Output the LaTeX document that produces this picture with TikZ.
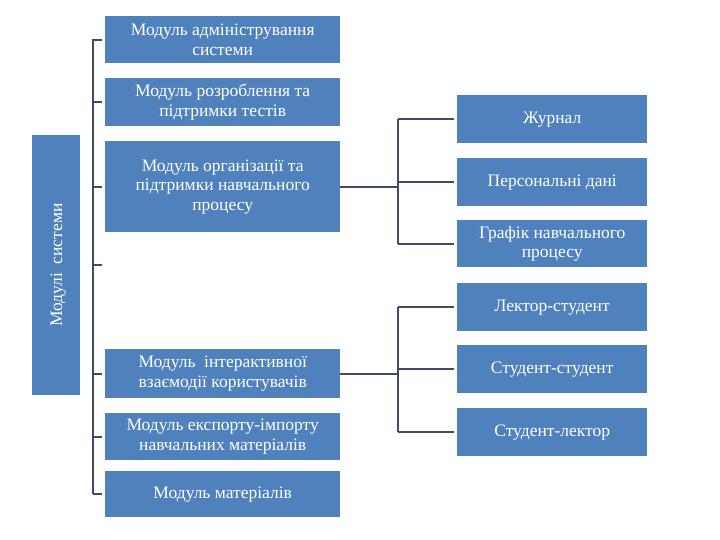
\documentclass[tikz,border=0pt]{standalone}
\usepackage{fontspec}
\setmainfont{Liberation Serif}
\usetikzlibrary{calc}
\definecolor{boxblue}{HTML}{4F81BD}
\definecolor{linedark}{HTML}{3E4C66}
\tikzset{
  modbox/.style={rectangle, fill=boxblue, text=white, anchor=north west,
    minimum width=235pt, align=center, inner sep=2pt,
    font=\fontsize{17.5}{19.5}\selectfont},
  subbox/.style={modbox, minimum width=190pt},
  link/.style={draw=linedark, line width=2pt},
  tick/.style={link, shorten >=3pt},
}

\begin{document}
\begin{tikzpicture}[x=1pt,y=-1pt]
  \useasboundingbox (0,0) rectangle (720,540);

  % left title box
  \node [modbox, minimum width=48pt, minimum height=260pt] (title) at (32,135) {};
  \node [rotate=90, text=white, font=\fontsize{17.5}{19.5}\selectfont] (titletext) at ($(title.center)+(2,0)$) {Модулі~ системи};

  % modules
  \node [modbox, minimum height=47pt] (m1) at (105,16) {Модуль адміністрування\\системи};
  \node [modbox, minimum height=48pt] (m2) at (105,78) {Модуль розроблення та\\підтримки тестів};
  \node [modbox, minimum height=91pt] (m3) at (105,141) {Модуль організації та\\підтримки навчального\\процесу};
  \node [modbox, minimum height=49pt] (m4) at (105,349) {Модуль~ інтерактивної\\взаємодії користувачів};
  \node [modbox, minimum height=47pt] (m5) at (105,413) {Модуль експорту-імпорту\\навчальних матеріалів};
  \node [modbox, minimum height=46pt] (m6) at (105,471) {Модуль матеріалів};

  % sub modules
  \node [subbox, minimum height=48pt] (s1) at (457,95) {Журнал};
  \node [subbox, minimum height=48pt] (s2) at (457,158) {Персональні дані};
  \node [subbox, minimum height=47pt] (s3) at (457,220) {Графік навчального\\процесу};
  \node [subbox, minimum height=48pt] (s4) at (457,283) {Лектор-студент};
  \node [subbox, minimum height=48pt] (s5) at (457,345) {Студент-студент};
  \node [subbox, minimum height=48pt] (s6) at (457,408) {Студент-лектор};

  % bracket on the left
  \coordinate (bartop) at (93,39.5);
  \coordinate (barbot) at (93,494);
  \coordinate (gap) at (102,265);
  \draw [link] (bartop) -- (barbot);
  \foreach \m in {m1,m2,m3,m4,m5,m6}
    \draw [tick] (\m.west -| bartop) -- (\m.west);
  \draw [link] (gap -| bartop) -- (gap);

  % organisation branch
  \coordinate (forkA) at (398,0);
  \draw [link] (m3.east) -- (m3.east -| forkA);
  \draw [link] (s1.west -| forkA) -- (s3.west -| forkA);
  \foreach \s in {s1,s2,s3}
    \draw [tick] (\s.west -| forkA) -- (\s.west);

  % interaction branch
  \draw [link] (m4.east) -- (m4.east -| forkA);
  \draw [link] (s4.west -| forkA) -- (s6.west -| forkA);
  \foreach \s in {s4,s5,s6}
    \draw [tick] (\s.west -| forkA) -- (\s.west);
\end{tikzpicture}
\end{document}
